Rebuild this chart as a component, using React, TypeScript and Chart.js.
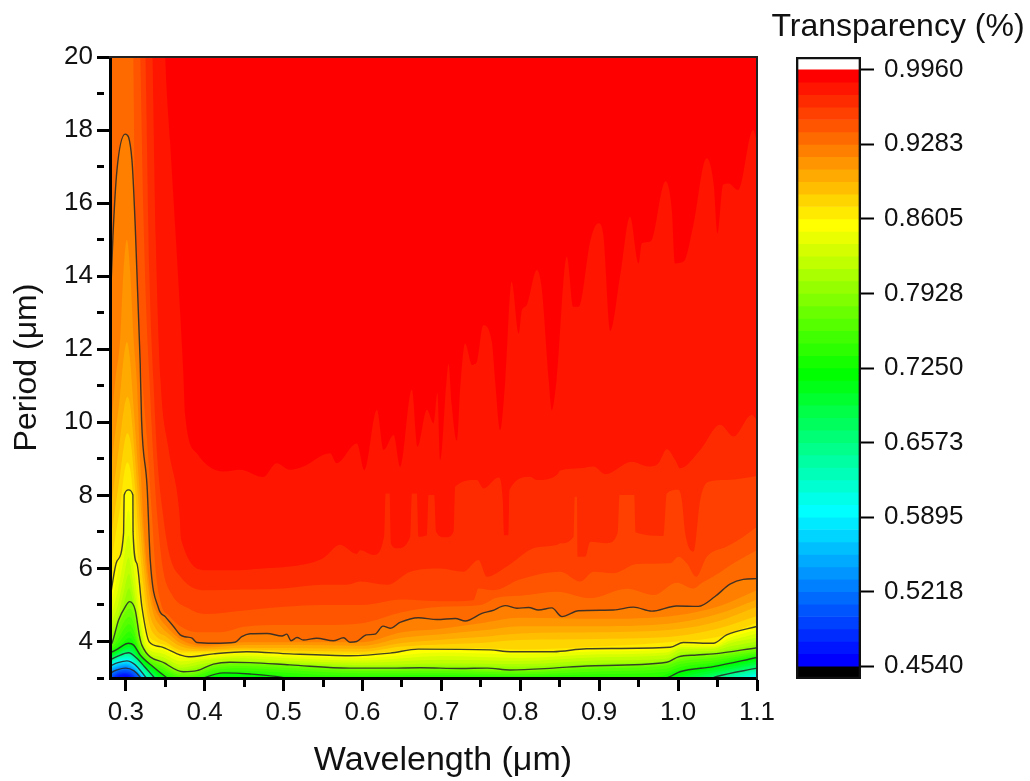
import React, { useEffect, useRef } from "react";
import { Chart, registerables } from "chart.js";

Chart.register(...registerables);

type Pt = [number, number];

// Wavelength (µm), Period (µm) of each contour boundary.
const base: Pt[] = [[0.28, 21], [1.1, 21]];
const band01: Pt[] = [[0.28, 24], [0.345, 24], [0.35, 20], [0.356, 17.73], [0.366, 14.1], [0.373, 11.3], [0.375, 10.25], [0.39, 9.15], [0.424, 8.65], [0.445, 8.7], [0.474, 8.5], [0.491, 8.88], [0.508, 8.7], [0.525, 8.79], [0.559, 9.15], [0.567, 8.88], [0.593, 9.42], [0.6023, 8.69], [0.6183, 10.34], [0.6267, 9.24], [0.6394, 9.65], [0.6478, 8.78], [0.6626, 10.9], [0.6698, 9.33], [0.6816, 10.34], [0.69, 9.97], [0.695, 10.8], [0.6985, 8.97], [0.706, 11], [0.709, 11.6], [0.713, 10.5], [0.7196, 9.5], [0.724, 11], [0.73, 12.16], [0.739, 11.57], [0.745, 11.66], [0.753, 12.66], [0.764, 12.2], [0.768, 11.16], [0.7744, 9.79], [0.781, 11.16], [0.789, 13.85], [0.798, 12.43], [0.802, 13.07], [0.808, 13.2], [0.821, 14.17], [0.827, 13.7], [0.836, 11.16], [0.8398, 10.33], [0.846, 11.16], [0.859, 14.53], [0.867, 13.16], [0.874, 13.16], [0.889, 14.99], [0.899, 15.45], [0.905, 15.17], [0.914, 12.5], [0.927, 14.08], [0.939, 15.63], [0.95, 14.35], [0.954, 14.9], [0.965, 14.95], [0.984, 16.6], [0.992, 15.81], [0.996, 14.35], [1.007, 14.4], [1.019, 15.36], [1.036, 17.23], [1.045, 16.54], [1.05, 15.17], [1.057, 16.5], [1.064, 16.54], [1.076, 16.36], [1.095, 18], [1.1, 17.7]];
const band02: Pt[] = [[0.28, 24], [0.33, 24], [0.3335, 20.5], [0.338, 15], [0.344, 11.16], [0.354, 9.3], [0.368, 7.5], [0.37, 6.8], [0.403, 5.95], [0.4365, 5.95], [0.474, 6], [0.508, 6.05], [0.55, 6.28], [0.5715, 6.65], [0.5926, 6.4], [0.5972, 6.5], [0.6141, 6.37], [0.6276, 6.91], [0.6293, 8.05], [0.6343, 8.05], [0.636, 6.69], [0.6436, 6.55], [0.6605, 6.87], [0.6626, 8.05], [0.6689, 8.05], [0.6711, 6.87], [0.6816, 6.91], [0.6837, 8.01], [0.6909, 8.01], [0.6934, 7], [0.7048, 6.85], [0.7154, 7], [0.7175, 8.24], [0.7449, 8.42], [0.7533, 8.19], [0.7723, 8.49], [0.7778, 7.87], [0.7795, 6.91], [0.785, 6.91], [0.7863, 8.15], [0.8124, 8.51], [0.8209, 8.42], [0.8462, 8.56], [0.8507, 8.68], [0.876, 8.74], [0.8929, 8.79], [0.9077, 8.58], [0.9414, 8.92], [0.9625, 8.79], [0.9752, 8.88], [0.9857, 9.26], [0.9963, 8.97], [1.0026, 8.74], [1.028, 9.24], [1.0533, 9.93], [1.0701, 9.61], [1.0934, 10.2], [1.1, 10.06]];
const band03: Pt[] = [[0.28, 24], [0.32, 24], [0.3245, 20.5], [0.33, 14], [0.335, 11.16], [0.34, 9], [0.347, 7.5], [0.355, 6.4], [0.37, 5.75], [0.4, 5.4], [0.45, 5.42], [0.5, 5.45], [0.55, 5.55], [0.58, 5.55], [0.5972, 5.64], [0.631, 5.55], [0.6605, 5.91], [0.6985, 6], [0.728, 5.91], [0.747, 6.23], [0.7576, 5.77], [0.783, 6.05], [0.8167, 6.55], [0.8462, 6.64], [0.8507, 6.69], [0.8676, 6.87], [0.869, 7.96], [0.8718, 7.96], [0.8726, 6.32], [0.8823, 6.32], [0.8887, 6.73], [0.9098, 6.69], [0.9233, 6.96], [0.9258, 8.01], [0.9444, 8.01], [0.9461, 6.99], [0.9815, 6.89], [0.9857, 8.05], [1.0005, 8.15], [1.0047, 7.87], [1.009, 6.96], [1.0195, 6.46], [1.028, 7.87], [1.0385, 8.37], [1.0618, 8.42], [1.1, 8.53]];
const band04: Pt[] = [[0.28, 24], [0.314, 24], [0.3184, 20], [0.322, 16], [0.326, 13], [0.33, 11.16], [0.335, 9], [0.34, 7.4], [0.347, 6], [0.358, 5.3], [0.38, 4.9], [0.4, 4.75], [0.45, 4.85], [0.5, 4.95], [0.55, 5], [0.6, 5], [0.65, 5.15], [0.7, 5.1], [0.7407, 5.13], [0.747, 5.45], [0.766, 5.4], [0.8, 5.7], [0.8507, 5.91], [0.876, 5.64], [0.8929, 5.91], [0.9182, 5.87], [0.9478, 6.12], [0.99, 6.14], [1.0005, 6.32], [1.011, 6.14], [1.0229, 5.77], [1.0364, 6.32], [1.0618, 6.6], [1.0828, 6.87], [1.1, 7.14]];
const band05: Pt[] = [[0.28, 24], [0.305, 24], [0.3095, 20], [0.3115, 16], [0.315, 13.5], [0.321, 11.16], [0.327, 9.5], [0.333, 7.5], [0.338, 5.9], [0.345, 5], [0.355, 4.7], [0.37, 4.4], [0.39, 4.25], [0.42, 4.25], [0.45, 4.4], [0.5, 4.45], [0.55, 4.45], [0.6, 4.5], [0.65, 4.8], [0.7, 4.95], [0.75, 5], [0.77, 5.2], [0.8, 5.25], [0.8462, 5.36], [0.8887, 5.18], [0.9351, 5.44], [0.9689, 5.27], [0.9984, 5.61], [1.0195, 5.45], [1.03, 5.6], [1.05, 5.85], [1.075, 6.2], [1.1, 6.5]];
const band06: Pt[] = [[0.28, 13], [0.2837, 15.08], [0.2888, 16.9], [0.2993, 17.89], [0.3078, 17.18], [0.312, 15.36], [0.3183, 11.6], [0.32, 10.06], [0.327, 8.24], [0.331, 6.23], [0.3415, 4.91], [0.35, 4.68], [0.3605, 4.41], [0.369, 4.18], [0.375, 4.13], [0.384, 4.09], [0.39, 3.97], [0.411, 3.95], [0.4385, 3.98], [0.447, 4.13], [0.4575, 4.21], [0.479, 4.22], [0.498, 4.15], [0.504, 4.2], [0.5095, 4.02], [0.517, 4.11], [0.525, 4.04], [0.542, 4.09], [0.563, 4.02], [0.576, 4.1], [0.584, 3.98], [0.5926, 4], [0.605, 4.18], [0.616, 4.2], [0.626, 4.42], [0.635, 4.36], [0.6475, 4.52], [0.6707, 4.65], [0.6944, 4.6], [0.7176, 4.63], [0.7303, 4.56], [0.7514, 4.77], [0.764, 4.84], [0.781, 4.98], [0.7957, 4.91], [0.8105, 4.93], [0.823, 4.86], [0.84, 4.92], [0.8527, 4.68], [0.8738, 4.84], [0.918, 4.86], [0.9434, 4.94], [0.9666, 4.83], [0.998, 4.97], [1.0257, 4.96], [1.0468, 5.23], [1.0658, 5.57], [1.0826, 5.7], [1.1, 5.72]];
const band07: Pt[] = [[0.28, 9.6], [0.287, 11.2], [0.293, 12.3], [0.297, 14.1], [0.3014, 15], [0.3056, 14.1], [0.31, 12.25], [0.314, 11.1], [0.3183, 8.9], [0.3246, 6.6], [0.333, 5.2], [0.3415, 4.7], [0.35, 4.45], [0.37, 4.05], [0.4, 3.88], [0.45, 3.98], [0.5, 3.98], [0.6, 3.98], [0.65, 4.25], [0.7, 4.35], [0.75, 4.5], [0.8, 4.65], [0.9, 4.62], [1, 4.72], [1.05, 4.95], [1.1, 5.4]];
const band08: Pt[] = [[0.28, 8.5], [0.286, 9.6], [0.292, 10.6], [0.2975, 11.8], [0.3014, 12.2], [0.305, 11.8], [0.31, 10.4], [0.315, 8.9], [0.32, 7.4], [0.326, 5.9], [0.334, 4.85], [0.345, 4.4], [0.355, 4.2], [0.37, 3.95], [0.4, 3.83], [0.45, 3.9], [0.5, 3.9], [0.6, 3.88], [0.65, 4.1], [0.7, 4.2], [0.75, 4.3], [0.8, 4.42], [0.9, 4.42], [1, 4.52], [1.05, 4.75], [1.1, 5.15]];
const band09: Pt[] = [[0.28, 7.5], [0.287, 8.6], [0.293, 9.6], [0.298, 10.4], [0.302, 10.7], [0.306, 10.4], [0.311, 9.2], [0.316, 7.8], [0.322, 6.2], [0.329, 4.9], [0.338, 4.35], [0.35, 4.15], [0.37, 3.86], [0.4, 3.78], [0.45, 3.83], [0.5, 3.82], [0.6, 3.8], [0.65, 3.96], [0.7, 4.05], [0.75, 4.12], [0.8, 4.22], [0.9, 4.25], [1, 4.34], [1.05, 4.55], [1.1, 4.95]];
const band10: Pt[] = [[0.28, 6.7], [0.287, 7.7], [0.293, 8.6], [0.298, 9.4], [0.302, 9.7], [0.3065, 9.4], [0.311, 8.4], [0.316, 7], [0.322, 5.6], [0.329, 4.55], [0.338, 4.15], [0.35, 4], [0.37, 3.76], [0.4, 3.74], [0.45, 3.78], [0.5, 3.75], [0.6, 3.72], [0.65, 3.86], [0.7, 3.92], [0.75, 3.96], [0.8, 4.04], [0.9, 4.07], [1, 4.15], [1.05, 4.35], [1.1, 4.7]];
const band11: Pt[] = [[0.28, 5.9], [0.287, 6.9], [0.293, 7.7], [0.298, 8.6], [0.302, 8.9], [0.3065, 8.6], [0.31, 7.8], [0.315, 6.4], [0.321, 5.2], [0.328, 4.25], [0.338, 4], [0.35, 3.9], [0.37, 3.7], [0.4, 3.7], [0.45, 3.75], [0.5, 3.7], [0.6, 3.66], [0.65, 3.76], [0.7, 3.82], [0.75, 3.82], [0.8, 3.78], [0.9, 3.86], [1, 4], [1.05, 4.12], [1.1, 4.52]];
const band12: Pt[] = [[0.28, 5.13], [0.2824, 5.5], [0.2888, 6.2], [0.2972, 6.96], [0.298, 8.01], [0.3035, 8.15], [0.309, 8.01], [0.3092, 7], [0.314, 6.14], [0.3204, 4.95], [0.3297, 3.99], [0.3436, 3.86], [0.369, 3.63], [0.3795, 3.58], [0.411, 3.66], [0.4533, 3.72], [0.508, 3.66], [0.584, 3.61], [0.635, 3.68], [0.6707, 3.79], [0.7619, 3.77], [0.787, 3.72], [0.842, 3.72], [0.884, 3.8], [0.99, 3.84], [1.0067, 3.97], [1.0447, 3.95], [1.0615, 4.18], [1.1, 4.41]];
const band13: Pt[] = [[0.28, 4.85], [0.29, 5.9], [0.2975, 6.9], [0.3035, 7.6], [0.308, 6.9], [0.313, 6], [0.319, 4.8], [0.328, 3.9], [0.345, 3.77], [0.37, 3.56], [0.4, 3.58], [0.45, 3.66], [0.5, 3.6], [0.6, 3.55], [0.7, 3.7], [0.8, 3.65], [0.9, 3.73], [0.985, 3.78], [1.005, 3.9], [1.045, 3.88], [1.065, 4.1], [1.1, 4.32]];
const band14: Pt[] = [[0.28, 4.6], [0.29, 5.4], [0.297, 6.2], [0.3035, 6.9], [0.308, 6.3], [0.313, 5.5], [0.318, 4.6], [0.327, 3.82], [0.345, 3.68], [0.37, 3.46], [0.4, 3.52], [0.45, 3.6], [0.5, 3.55], [0.6, 3.48], [0.7, 3.6], [0.8, 3.55], [0.9, 3.65], [0.985, 3.7], [1.005, 3.85], [1.045, 3.84], [1.065, 4.02], [1.1, 4.22]];
const band15: Pt[] = [[0.28, 4.4], [0.29, 5], [0.297, 5.7], [0.3035, 6.3], [0.308, 5.8], [0.313, 5.1], [0.318, 4.4], [0.326, 3.75], [0.345, 3.58], [0.37, 3.36], [0.4, 3.48], [0.45, 3.54], [0.5, 3.48], [0.6, 3.42], [0.7, 3.5], [0.8, 3.47], [0.9, 3.57], [0.985, 3.62], [1.005, 3.8], [1.045, 3.8], [1.065, 3.95], [1.1, 4.1]];
const band16: Pt[] = [[0.28, 4.2], [0.29, 4.7], [0.297, 5.3], [0.304, 5.85], [0.308, 5.45], [0.313, 4.85], [0.318, 4.2], [0.325, 3.65], [0.345, 3.5], [0.37, 3.28], [0.4, 3.4], [0.45, 3.48], [0.5, 3.43], [0.6, 3.35], [0.7, 3.4], [0.8, 3.38], [0.9, 3.48], [0.985, 3.53], [1.005, 3.72], [1.045, 3.74], [1.065, 3.86], [1.1, 4]];
const band17: Pt[] = [[0.28, 4.05], [0.29, 4.55], [0.297, 5], [0.304, 5.45], [0.309, 5.1], [0.313, 4.6], [0.318, 4], [0.323, 3.55], [0.345, 3.43], [0.37, 3.22], [0.4, 3.33], [0.45, 3.44], [0.5, 3.39], [0.6, 3.31], [0.7, 3.34], [0.8, 3.31], [0.9, 3.4], [0.985, 3.47], [1.005, 3.65], [1.045, 3.7], [1.065, 3.78], [1.1, 3.92]];
const band18: Pt[] = [[0.28, 3.9], [0.2824, 3.95], [0.2909, 4.59], [0.2993, 4.95], [0.3048, 5.09], [0.312, 4.86], [0.3175, 4.13], [0.3204, 3.9], [0.35, 3.4], [0.373, 3.17], [0.39, 3.2], [0.411, 3.38], [0.432, 3.43], [0.4576, 3.42], [0.508, 3.36], [0.584, 3.27], [0.635, 3.27], [0.6733, 3.28], [0.724, 3.26], [0.758, 3.27], [0.787, 3.22], [0.842, 3.27], [0.884, 3.33], [0.9856, 3.43], [1.0004, 3.58], [1.0236, 3.63], [1.0447, 3.66], [1.1, 3.83]];
const band19: Pt[] = [[0.28, 3.88], [0.29, 4.4], [0.298, 4.75], [0.3045, 4.9], [0.311, 4.65], [0.316, 4.05], [0.32, 3.8], [0.345, 3.38], [0.373, 3.12], [0.39, 3.16], [0.41, 3.33], [0.45, 3.38], [0.5, 3.34], [0.6, 3.23], [0.7, 3.24], [0.8, 3.19], [0.9, 3.3], [0.985, 3.38], [1.003, 3.52], [1.045, 3.6], [1.1, 3.78]];
const band20: Pt[] = [[0.28, 3.83], [0.29, 4.2], [0.298, 4.55], [0.3045, 4.68], [0.31, 4.5], [0.315, 4], [0.32, 3.72], [0.345, 3.32], [0.373, 3.07], [0.39, 3.11], [0.41, 3.27], [0.45, 3.33], [0.5, 3.28], [0.6, 3.19], [0.7, 3.2], [0.8, 3.15], [0.9, 3.26], [0.985, 3.34], [1.003, 3.46], [1.045, 3.55], [1.1, 3.72]];
const band21: Pt[] = [[0.28, 3.78], [0.29, 4.05], [0.298, 4.35], [0.3045, 4.47], [0.31, 4.3], [0.315, 3.9], [0.32, 3.6], [0.345, 3.25], [0.373, 3.02], [0.39, 3.06], [0.41, 3.21], [0.45, 3.27], [0.5, 3.22], [0.6, 3.13], [0.7, 3.14], [0.8, 3.1], [0.9, 3.18], [0.985, 3.25], [1.003, 3.38], [1.045, 3.48], [1.1, 3.67]];
const band22: Pt[] = [[0.28, 3.74], [0.29, 3.93], [0.298, 4.15], [0.3045, 4.27], [0.31, 4.12], [0.315, 3.82], [0.32, 3.52], [0.345, 3.18], [0.373, 2.97], [0.39, 3], [0.41, 3.14], [0.45, 3.2], [0.5, 3.15], [0.55, 3.08], [0.6, 3.06], [0.7, 3.08], [0.8, 3.05], [0.9, 3.1], [0.985, 3.17], [1.003, 3.3], [1.045, 3.42], [1.1, 3.62]];
const band23: Pt[] = [[0.28, 3.7], [0.29, 3.85], [0.298, 4], [0.3045, 4.1], [0.31, 3.98], [0.315, 3.75], [0.32, 3.47], [0.345, 3.1], [0.373, 2.92], [0.39, 2.95], [0.41, 3.08], [0.45, 3.14], [0.5, 3.07], [0.55, 3], [0.6, 2.98], [0.9, 2.98], [0.97, 3.02], [1.003, 3.22], [1.045, 3.36], [1.1, 3.59]];
const band24: Pt[] = [[0.28, 3.68], [0.29, 3.8], [0.3035, 3.95], [0.31, 3.9], [0.3183, 3.63], [0.335, 3.3], [0.35, 3.04], [0.36, 2.9], [0.39, 2.9], [0.4, 3.01], [0.424, 3.14], [0.4576, 3.11], [0.5, 3.01], [0.52, 2.9], [0.96, 2.9], [0.9898, 3.04], [1.0024, 3.17], [1.0447, 3.31], [1.1, 3.56]];
const band25: Pt[] = [[0.28, 3.64], [0.29, 3.76], [0.3035, 3.9], [0.31, 3.85], [0.3183, 3.57], [0.335, 3.23], [0.35, 2.98], [0.36, 2.9], [0.98, 2.9], [1, 3.04], [1.02, 3.17], [1.0447, 3.27], [1.1, 3.5]];
const band26: Pt[] = [[0.28, 3.6], [0.29, 3.72], [0.3035, 3.85], [0.31, 3.8], [0.3183, 3.5], [0.335, 3.18], [0.35, 2.92], [0.99, 2.9], [1.01, 3.05], [1.03, 3.15], [1.0447, 3.21], [1.1, 3.45]];
const band27: Pt[] = [[0.28, 3.57], [0.29, 3.68], [0.3035, 3.8], [0.31, 3.74], [0.3183, 3.44], [0.335, 3.13], [0.347, 2.92], [1, 2.9], [1.02, 3.03], [1.045, 3.15], [1.1, 3.4]];
const band28: Pt[] = [[0.28, 3.54], [0.29, 3.65], [0.3035, 3.75], [0.31, 3.68], [0.3183, 3.38], [0.335, 3.09], [0.344, 2.92], [1.01, 2.9], [1.03, 3.03], [1.045, 3.1], [1.1, 3.36]];
const band29: Pt[] = [[0.28, 3.51], [0.29, 3.62], [0.3035, 3.71], [0.31, 3.63], [0.3183, 3.3], [0.335, 3.05], [0.342, 2.92], [1.02, 2.9], [1.04, 3.03], [1.1, 3.31]];
const band30: Pt[] = [[0.28, 3.49], [0.29, 3.6], [0.3035, 3.69], [0.314, 3.54], [0.325, 3.28], [0.335, 3.04], [0.34, 2.92], [1.03, 2.9], [1.049, 3.04], [1.1, 3.27]];
const band31: Pt[] = [[0.28, 3.46], [0.29, 3.57], [0.3035, 3.65], [0.314, 3.48], [0.325, 3.2], [0.334, 2.98], [0.34, 2.9], [1.04, 2.9], [1.06, 3.03], [1.1, 3.23]];
const band32: Pt[] = [[0.28, 3.43], [0.29, 3.54], [0.3025, 3.61], [0.314, 3.44], [0.325, 3.12], [0.332, 2.92], [1.05, 2.9], [1.07, 3.03], [1.1, 3.19]];
const band33: Pt[] = [[0.28, 3.41], [0.29, 3.52], [0.302, 3.57], [0.313, 3.4], [0.325, 3.07], [0.331, 2.92], [1.06, 2.9], [1.08, 3.03], [1.1, 3.14]];
const band34: Pt[] = [[0.28, 3.38], [0.29, 3.48], [0.302, 3.53], [0.313, 3.37], [0.325, 3.02], [0.329, 2.92], [1.07, 2.9], [1.09, 3.04], [1.1, 3.1]];
const band35: Pt[] = [[0.28, 3.35], [0.29, 3.45], [0.302, 3.5], [0.312, 3.38], [0.325, 3], [0.329, 2.9], [1.08, 2.9], [1.1, 3.05]];
const band36: Pt[] = [[0.28, 3.33], [0.29, 3.42], [0.3014, 3.47], [0.312, 3.36], [0.3246, 3.04], [0.33, 2.9]];
const band37: Pt[] = [[0.28, 3.29], [0.29, 3.39], [0.301, 3.43], [0.312, 3.31], [0.323, 3.02], [0.328, 2.9]];
const band38: Pt[] = [[0.28, 3.26], [0.29, 3.36], [0.301, 3.4], [0.312, 3.27], [0.322, 3], [0.326, 2.9]];
const band39: Pt[] = [[0.28, 3.23], [0.29, 3.32], [0.3, 3.36], [0.311, 3.25], [0.321, 3], [0.325, 2.9]];
const band40: Pt[] = [[0.28, 3.19], [0.29, 3.29], [0.3, 3.33], [0.311, 3.22], [0.32, 3], [0.324, 2.9]];
const band41: Pt[] = [[0.28, 3.16], [0.29, 3.26], [0.3, 3.3], [0.31, 3.21], [0.319, 3.01], [0.322, 2.9]];
const band42: Pt[] = [[0.28, 3.1], [0.281, 3.13], [0.29, 3.23], [0.3, 3.27], [0.31, 3.2], [0.3183, 3.02], [0.322, 2.9]];
const band43: Pt[] = [[0.28, 3.05], [0.29, 3.18], [0.3, 3.22], [0.31, 3.15], [0.316, 3.02], [0.32, 2.9]];
const band44: Pt[] = [[0.28, 2.98], [0.29, 3.14], [0.3, 3.18], [0.308, 3.12], [0.315, 2.98], [0.318, 2.9]];
const band45: Pt[] = [[0.28, 2.92], [0.29, 3.1], [0.3, 3.14], [0.308, 3.08], [0.314, 2.95], [0.317, 2.9]];
const band46: Pt[] = [[0.283, 2.9], [0.29, 3.05], [0.3, 3.1], [0.307, 3.04], [0.313, 2.9]];
const band47: Pt[] = [[0.287, 2.9], [0.294, 3], [0.3, 3.05], [0.306, 3], [0.312, 2.9]];

const bands: Pt[][] = [base, band01, band02, band03, band04, band05, band06, band07, band08, band09, band10, band11, band12, band13, band14, band15, band16, band17, band18, band19, band20, band21, band22, band23, band24, band25, band26, band27, band28, band29, band30, band31, band32, band33, band34, band35, band36, band37, band38, band39, band40, band41, band42, band43, band44, band45, band46, band47];
const contourLines: Pt[][] = [band06, band12, band18, band24, band30, band36, band42];

const xMajor = [0.3, 0.4, 0.5, 0.6, 0.7, 0.8, 0.9, 1.0, 1.1];
const xMinor = [0.35, 0.45, 0.55, 0.65, 0.75, 0.85, 0.95, 1.05];
const yMajor = [4, 6, 8, 10, 12, 14, 16, 18, 20];
const yMinor = [3, 5, 7, 9, 11, 13, 15, 17, 19];
const colorTicks = ["0.9960", "0.9283", "0.8605", "0.7928", "0.7250", "0.6573", "0.5895", "0.5218", "0.4540"];

const FONT = "'Liberation Sans', Arial, sans-serif";
const INK = "#111";

function bandColor(i: number): string {
  const c = (a: number) => Math.round(Math.max(0, Math.min(255, a)));
  if (i <= 12) return `rgb(255,${c((i * 255) / 12)},0)`;
  if (i <= 24) return `rgb(${c(255 - ((i - 12) * 255) / 12)},255,0)`;
  if (i <= 35) return `rgb(0,255,${c(((i - 24) * 255) / 11)})`;
  return `rgb(0,${c(255 - ((i - 35) * 255) / 12)},255)`;
}

const frameAxis = (size: "width" | "height") => ({
  type: "linear",
  display: true,
  min: 0,
  max: 1,
  ticks: { display: false },
  grid: { drawOnChartArea: false, drawTicks: false },
  border: { display: true, width: 2, color: "#222", z: 2 },
  afterFit: (s: any) => {
    s[size] = 0;
  },
});

export default function App() {
  const mapRef = useRef<HTMLCanvasElement>(null);
  const barRef = useRef<HTMLCanvasElement>(null);

  useEffect(() => {
    const fills = bands.map((data, k) => ({
      type: "line",
      data,
      order: 1000 - k,
      backgroundColor: bandColor(k),
      borderWidth: 0,
      borderColor: "transparent",
      pointRadius: 0,
      fill: "start",
      cubicInterpolationMode: "monotone",
    }));
    const strokes = contourLines.map((data) => ({
      type: "line",
      data,
      order: 1,
      borderColor: "rgba(40,40,40,0.88)",
      borderWidth: 1.4,
      pointRadius: 0,
      fill: false,
      cubicInterpolationMode: "monotone",
    }));

    const map = new Chart(mapRef.current as HTMLCanvasElement, {
      type: "line",
      data: { datasets: [...fills, ...strokes] as any },
      options: {
        responsive: false,
        animation: false,
        events: [],
        layout: { padding: { top: 57, right: 273, left: 0, bottom: 0 } },
        plugins: { legend: { display: false }, tooltip: { enabled: false } },
        scales: {
          x: {
            type: "linear",
            min: 0.28,
            max: 1.1,
            afterBuildTicks: (s: any) => {
              s.ticks = [...xMajor, ...xMinor].map((value) => ({ value }));
            },
            afterFit: (s: any) => {
              s.height = 103;
            },
            ticks: {
              autoSkip: false,
              maxRotation: 0,
              padding: 6,
              color: INK,
              font: { family: FONT, size: 26 },
              callback: (v: any) => (xMajor.includes(v) ? v.toFixed(1) : ""),
            },
            grid: {
              drawOnChartArea: false,
              tickLength: 13,
              tickWidth: 3,
              tickColor: "#000",
              tickBorderDash: (c: any) => (xMinor.includes(c.tick?.value) ? [7, 40] : []),
              z: 2,
            },
            border: { display: true, width: 3, color: "#000", z: 2 },
            title: {
              display: true,
              text: "  Wavelength (μm)",
              color: INK,
              font: { family: FONT, size: 34 },
              padding: { top: 0, bottom: 0 },
            },
          },
          y: {
            type: "linear",
            min: 3,
            max: 20,
            afterBuildTicks: (s: any) => {
              s.ticks = [...yMajor, ...yMinor].map((value) => ({ value }));
            },
            afterFit: (s: any) => {
              s.width = 110;
            },
            ticks: {
              autoSkip: false,
              padding: 4,
              color: INK,
              font: { family: FONT, size: 26 },
              callback: (v: any) => (yMajor.includes(v) ? String(v) : ""),
            },
            grid: {
              drawOnChartArea: false,
              tickLength: 13,
              tickWidth: 3,
              tickColor: "#000",
              tickBorderDash: (c: any) => (yMinor.includes(c.tick?.value) ? [7, 40] : []),
              z: 2,
            },
            border: { display: true, width: 3, color: "#000", z: 2 },
            title: {
              display: true,
              text: "Period (μm)",
              color: INK,
              font: { family: FONT, size: 32 },
              padding: { top: 8, bottom: 0 },
            },
          },
          x2: { ...frameAxis("height"), position: "top" },
          y2: { ...frameAxis("width"), position: "right" },
        } as any,
      },
    } as any);

    const tickValues = colorTicks.map(Number);
    const hi = tickValues[0];
    const lo = tickValues[tickValues.length - 1];
    const step = (hi - lo) / 48;
    const pad = step * 1.03;
    const barSets: any[] = [];
    for (let i = 0; i < 48; i++) {
      barSets.push({
        data: [[hi - step * (i + 1), hi - step * i]],
        backgroundColor: bandColor(i),
        order: 10,
      });
    }
    barSets.push({ data: [[lo - pad, lo]], backgroundColor: "#000", order: 10 });
    barSets.push({ data: [[hi, hi + pad]], backgroundColor: "#fff", order: 10 });
    barSets.push({
      data: [[lo - pad, hi + pad]],
      backgroundColor: "transparent",
      borderColor: "#111",
      borderWidth: 2,
      borderSkipped: false,
      order: 1,
    });

    const bar = new Chart(barRef.current as HTMLCanvasElement, {
      type: "bar",
      data: { labels: ["T"], datasets: barSets },
      options: {
        responsive: false,
        animation: false,
        events: [],
        layout: { padding: { left: 0, right: 0, bottom: 102, top: 0 } },
        datasets: { bar: { barPercentage: 1, categoryPercentage: 1, grouped: false } },
        plugins: {
          legend: { display: false },
          tooltip: { enabled: false },
          title: {
            display: true,
            text: "Transparency (%)",
            color: INK,
            font: { family: FONT, size: 32, weight: "normal" },
            padding: { top: 8, bottom: 10.6 },
          },
        },
        scales: {
          x: { display: false },
          y: {
            position: "right",
            min: lo - pad,
            max: hi + pad,
            afterBuildTicks: (s: any) => {
              s.ticks = tickValues.map((value) => ({ value }));
            },
            afterFit: (s: any) => {
              s.width = 165;
            },
            ticks: {
              autoSkip: false,
              padding: 10,
              color: INK,
              font: { family: FONT, size: 26 },
              callback: (v: any) => Number(v).toFixed(4),
            },
            grid: {
              drawOnChartArea: false,
              tickLength: 13,
              tickWidth: 2,
              tickColor: "#000",
            },
            border: { display: false },
          },
          gutter: {
            type: "linear",
            axis: "y",
            position: "left",
            ticks: { display: false },
            grid: { display: false, drawTicks: false },
            border: { display: false },
            afterFit: (s: any) => {
              s.width = 26;
            },
          },
        },
      } as any,
    } as any);

    return () => {
      map.destroy();
      bar.destroy();
    };
  }, []);

  return (
    <div style={{ position: "absolute", left: 0, top: 0, width: 1030, height: 781, background: "#fff" }}>
      <canvas ref={mapRef} width={1030} height={781} style={{ position: "absolute", left: 0, top: 0 }} />
      <canvas ref={barRef} width={256} height={781} style={{ position: "absolute", left: 770, top: 0 }} />
    </div>
  );
}
